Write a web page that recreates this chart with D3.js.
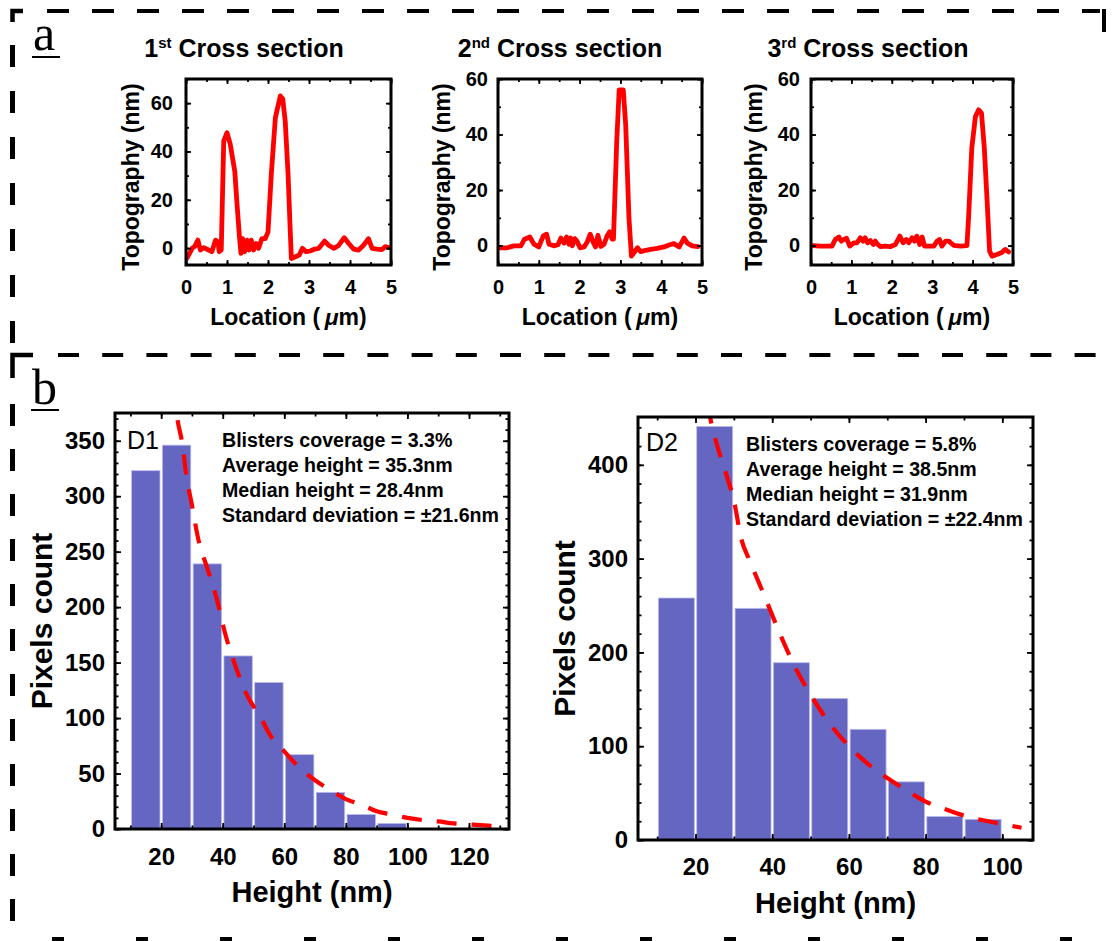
<!DOCTYPE html>
<html>
<head>
<meta charset="utf-8">
<script src="https://cdn.jsdelivr.net/npm/d3@7"></script>
<style>
  body { margin: 0; background: #fff; }
  svg { display: block; }
</style>
</head>
<body>
<svg id="fig" width="1112" height="941"></svg>
<script>
// ---------- data ----------
// Topography profiles along three cross sections: [location (µm), height (nm)]
const section1 = [[0.02,-4.3],[0.15,-0.1],[0.21,0.6],[0.29,3.3],[0.35,-0.8],[0.43,0.2],[0.55,-0.8],[0.63,-1.5],[0.72,3.3],[0.78,2.6],[0.81,-1.5],[0.86,-0.8],[0.92,44.3],[1.0,47.8],[1.08,42.9],[1.19,31.8],[1.24,19.3],[1.30,5.4],[1.34,-2.2],[1.38,3.9],[1.43,-1.5],[1.49,3.3],[1.54,-0.8],[1.59,3.3],[1.65,-0.8],[1.71,1.9],[1.77,-0.1],[1.85,3.9],[1.93,3.9],[2.0,6.6],[2.08,30.4],[2.18,54],[2.30,63],[2.36,61.7],[2.42,52.6],[2.49,30.4],[2.54,8.2],[2.57,-4.3],[2.67,-3.6],[2.76,-2.9],[2.84,-0.1],[2.93,-1.5],[3.03,-1.2],[3.14,-0.4],[3.24,-0.1],[3.38,2.9],[3.48,1.2],[3.60,-0.1],[3.72,1.0],[3.86,4.3],[3.97,1.9],[4.09,-0.4],[4.21,-0.8],[4.33,1.2],[4.45,3.9],[4.54,-0.1],[4.66,-0.4],[4.78,-0.6],[4.86,0.6],[4.94,0.2]];
const section2 = [[0.05,-0.8],[0.23,-0.8],[0.39,-0.1],[0.56,-0.1],[0.65,2.3],[0.78,3.1],[0.88,0.5],[1.0,-0.5],[1.11,3.5],[1.19,4.1],[1.25,0.5],[1.37,-0.1],[1.47,0.3],[1.54,2.7],[1.62,0.9],[1.68,3.1],[1.74,0.5],[1.78,2.7],[1.82,-0.1],[1.88,2.5],[1.94,1.5],[2.01,-0.8],[2.11,-0.5],[2.19,1.4],[2.26,4.1],[2.34,1.0],[2.39,-0.5],[2.45,3.7],[2.52,-0.3],[2.60,0.5],[2.68,3.7],[2.74,5.0],[2.80,2.3],[2.83,2.3],[2.91,37.5],[2.97,56.1],[3.07,56.1],[3.13,43.5],[3.21,10],[3.27,-3.8],[3.33,-2.6],[3.42,-0.8],[3.50,-2.2],[3.62,-1.7],[3.74,-1.4],[3.90,-1.0],[4.07,-0.5],[4.19,0.2],[4.31,0.7],[4.44,-0.5],[4.56,2.7],[4.64,0.9],[4.76,-0.1],[4.90,-0.4]];
const section3 = [[0.05,0.0],[0.23,-0.2],[0.40,-0.2],[0.52,-0.2],[0.60,2.2],[0.69,3.1],[0.75,1.6],[0.81,2.2],[0.88,2.6],[0.96,-0.2],[1.06,1.0],[1.14,1.0],[1.22,2.8],[1.29,1.6],[1.34,2.8],[1.40,1.0],[1.47,1.8],[1.54,0.4],[1.59,1.6],[1.65,0.4],[1.72,-0.4],[1.84,-0.2],[1.96,-0.4],[2.09,0.4],[2.20,3.4],[2.28,1.0],[2.36,2.2],[2.42,1.0],[2.50,2.8],[2.56,1.6],[2.62,3.4],[2.69,0.4],[2.75,3.1],[2.81,-0.2],[2.94,-0.2],[3.04,-0.2],[3.12,1.6],[3.18,2.2],[3.24,-0.2],[3.33,1.6],[3.41,1.6],[3.53,0.1],[3.70,-0.2],[3.86,0.0],[3.90,10],[3.98,35.1],[4.07,46.5],[4.15,48.9],[4.22,47.7],[4.29,35.1],[4.36,15.9],[4.42,-2.0],[4.48,-3.8],[4.60,-3.2],[4.71,-2.6],[4.81,-1.4],[4.89,-2.3]];

const sectionOrdinals = [["1", "st"], ["2", "nd"], ["3", "rd"]];
const sectionYDomains = [[-7, 70], [-7, 60], [-7, 60]];
const topographyTicks = [0, 20, 40, 60];
const locationTicks = [0, 1, 2, 3, 4, 5];

// Height histograms (10 nm bins) and their fitted decay curves
const binStarts = [10, 20, 30, 40, 50, 60, 70, 80, 90];
const binWidth = 10;
const countsD1 = [323, 346, 239, 156, 132, 67, 33, 13, 5];
const countsD2 = [258, 441, 247, 189, 151, 118, 62, 25, 22];
const fitD1 = [[24,400],[25.2,371],[27,345],[28,322],[30,292],[32,262],[35,235],[38,208],[41,174],[44,148],[48,120],[52,102],[56,82],[60,70],[65,55],[70,44],[75,35],[80,27],[85,22],[90,16],[95,13],[100,10],[105,8],[110,6.8],[115,5],[120,4.2],[125,3.3],[130,2]];
const fitD2 = [[23,465],[25,430],[28,390],[30,362],[32,320],[34,299],[38,260],[42,220],[46,184],[50,155],[55,124],[60,100],[65,81],[70,66],[75,53],[80,41],[85,33],[90,26],[95,21],[100,17],[105,13]];
const heightTicksD1 = [20, 40, 60, 80, 100, 120];
const heightTicksD2 = [20, 40, 60, 80, 100];
const countTicksD1 = [0, 50, 100, 150, 200, 250, 300, 350];
const countTicksD2 = [0, 100, 200, 300, 400];
const statsD1 = ["Blisters coverage = 3.3%", "Average height = 35.3nm", "Median height = 28.4nm", "Standard deviation = \u00b121.6nm"];
const statsD2 = ["Blisters coverage = 5.8%", "Average height = 38.5nm", "Median height = 31.9nm", "Standard deviation = \u00b122.4nm"];

// ---------- drawing ----------
const SANS = "'Liberation Sans', Arial, Helvetica, sans-serif";
const SERIF = "'Liberation Serif', 'Times New Roman', serif";
const RED = "#ff0000";
const BAR = "#6466c1";

const svg = d3.select("#fig");
svg.append("rect").attr("width", 1112).attr("height", 941).attr("fill", "#fff");

let clipId = 0;

// Boxed axes with inward ticks on all four sides
function boxAxes(g, x, y, o) {
  const [xl, xr] = x.range();
  const [yb, yt] = y.range();
  const styleTicks = sel => {
    sel.select(".domain").remove();
    sel.selectAll(".tick line").attr("stroke", "#000").attr("stroke-width", 1.8);
    sel.selectAll("text").attr("font-family", SANS).attr("font-weight", "bold")
      .attr("font-size", o.tickFont).attr("fill", "#000");
  };
  const fmt = d3.format("d");
  // minor ticks
  g.append("g").attr("transform", `translate(0,${yb})`)
    .call(d3.axisBottom(x).tickValues(o.xMinor).tickSize(-o.minorLen).tickFormat("")).call(styleTicks);
  g.append("g").attr("transform", `translate(0,${yt})`)
    .call(d3.axisTop(x).tickValues(o.xMinor).tickSize(-o.minorLen).tickFormat("")).call(styleTicks);
  g.append("g").attr("transform", `translate(${xl},0)`)
    .call(d3.axisLeft(y).tickValues(o.yMinor).tickSize(-o.minorLen).tickFormat("")).call(styleTicks);
  g.append("g").attr("transform", `translate(${xr},0)`)
    .call(d3.axisRight(y).tickValues(o.yMinor).tickSize(-o.minorLen).tickFormat("")).call(styleTicks);
  // major ticks with labels on bottom and left
  g.append("g").attr("transform", `translate(0,${yb})`)
    .call(d3.axisBottom(x).tickValues(o.xMajor).tickSize(-o.majorLen).tickPadding(o.xPad).tickFormat(fmt)).call(styleTicks);
  g.append("g").attr("transform", `translate(0,${yt})`)
    .call(d3.axisTop(x).tickValues(o.xMajor).tickSize(-o.majorLen).tickFormat("")).call(styleTicks);
  g.append("g").attr("transform", `translate(${xl},0)`)
    .call(d3.axisLeft(y).tickValues(o.yMajor).tickSize(-o.majorLen).tickPadding(o.yPad).tickFormat(fmt)).call(styleTicks);
  g.append("g").attr("transform", `translate(${xr},0)`)
    .call(d3.axisRight(y).tickValues(o.yMajor).tickSize(-o.majorLen).tickFormat("")).call(styleTicks);
  // frame
  g.append("rect").attr("x", xl).attr("y", yt).attr("width", xr - xl).attr("height", yb - yt)
    .attr("fill", "none").attr("stroke", "#000").attr("stroke-width", 3);
}

function clipRect(x, y) {
  const id = "clip" + (clipId++);
  const [xl, xr] = x.range();
  const [yb, yt] = y.range();
  svg.append("clipPath").attr("id", id).append("rect")
    .attr("x", xl).attr("y", yt).attr("width", xr - xl).attr("height", yb - yt);
  return `url(#${id})`;
}

// ---- panel a: three cross sections ----
const sections = [section1, section2, section3];
const topLayout = [
  { box: [186, 391, 265, 79], yPad: 13, titleX: 244, yLabelX: 139 },
  { box: [498, 702, 265, 79], yPad: 10, titleX: 560, yLabelX: 450 },
  { box: [811, 1013, 265, 79], yPad: 11, titleX: 868, yLabelX: 762 }
];

sections.forEach((data, i) => {
  const L = topLayout[i];
  const x = d3.scaleLinear().domain([0, 5]).range([L.box[0], L.box[1]]);
  const y = d3.scaleLinear().domain(sectionYDomains[i]).range([L.box[2], L.box[3]]);
  const g = svg.append("g");

  const line = d3.line().x(d => x(d[0])).y(d => y(d[1]));
  g.append("path").datum(data).attr("d", line)
    .attr("clip-path", clipRect(x, y))
    .attr("fill", "none").attr("stroke", RED).attr("stroke-width", 4.8)
    .attr("stroke-linejoin", "round").attr("stroke-linecap", "round");

  boxAxes(g, x, y, {
    xMajor: locationTicks, xMinor: d3.range(0, 5.01, 0.5),
    yMajor: topographyTicks, yMinor: d3.range(0, sectionYDomains[i][1] + 0.1, 10),
    majorLen: 5, minorLen: 3, tickFont: 20, xPad: 15, yPad: L.yPad
  });

  // title with superscript ordinal
  const t = g.append("text").attr("x", L.titleX).attr("y", 57).attr("text-anchor", "middle")
    .attr("font-family", SANS).attr("font-weight", "bold").attr("font-size", 25);
  t.append("tspan").text(sectionOrdinals[i][0]);
  t.append("tspan").attr("font-size", 15).attr("dy", -9).text(sectionOrdinals[i][1]);
  t.append("tspan").attr("dy", 9).text(" Cross section");

  // axis titles
  g.append("text").attr("transform", `translate(${L.yLabelX},177) rotate(-90)`)
    .attr("text-anchor", "middle").attr("font-family", SANS).attr("font-weight", "bold")
    .attr("font-size", 23).text("Topography (nm)");
  const xl = g.append("text").attr("x", (L.box[0] + L.box[1]) / 2).attr("y", 325)
    .attr("text-anchor", "middle").attr("font-family", SANS).attr("font-weight", "bold")
    .attr("font-size", 23);
  xl.append("tspan").text("Location (\u2009");
  xl.append("tspan").attr("font-style", "italic").text("\u03bc");
  xl.append("tspan").text("m)");
});

// ---- panel b: height histograms ----
const histLayout = [
  { box: [115, 509, 829, 413], xDomain: [5, 133], yDomain: [0, 375], xPad: 19,
    tag: "D1", tagX: 127, tagY: 449, statX: 222, statY: 446.5, yLabelX: 52, xLabelY: 902 },
  { box: [638, 1033, 840, 417], xDomain: [5, 108], yDomain: [0, 451], xPad: 18,
    tag: "D2", tagX: 646, tagY: 451, statX: 746, statY: 450.5, yLabelX: 575, xLabelY: 913 }
];
const hists = [
  { counts: countsD1, fit: fitD1, xt: heightTicksD1, yt: countTicksD1, yMinorStep: 10, xMinorMax: 130, stats: statsD1 },
  { counts: countsD2, fit: fitD2, xt: heightTicksD2, yt: countTicksD2, yMinorStep: 20, xMinorMax: 100, stats: statsD2 }
];

hists.forEach((h, i) => {
  const L = histLayout[i];
  const x = d3.scaleLinear().domain(L.xDomain).range([L.box[0], L.box[1]]);
  const y = d3.scaleLinear().domain(L.yDomain).range([L.box[2], L.box[3]]);
  const g = svg.append("g");

  g.selectAll("rect.bar").data(binStarts.map((b, k) => ({ b, v: h.counts[k] })))
    .join("rect").attr("class", "bar")
    .attr("x", d => x(d.b) + 1.2)
    .attr("width", d => x(d.b + binWidth) - x(d.b) - 2.4)
    .attr("y", d => y(d.v))
    .attr("height", d => y(0) - y(d.v))
    .attr("fill", BAR).attr("stroke", "#b9baec").attr("stroke-width", 0.8);

  const fitLine = d3.line().curve(d3.curveMonotoneX).x(d => x(d[0])).y(d => y(d[1]));
  g.append("path").datum(h.fit).attr("d", fitLine)
    .attr("clip-path", clipRect(x, y))
    .attr("fill", "none").attr("stroke", RED).attr("stroke-width", 4.2)
    .attr("stroke-dasharray", "20 15");

  boxAxes(g, x, y, {
    xMajor: h.xt, xMinor: d3.range(10, h.xMinorMax + 0.1, 10),
    yMajor: h.yt, yMinor: d3.range(0, L.yDomain[1], h.yMinorStep),
    majorLen: 6, minorLen: 3.5, tickFont: 24, xPad: L.xPad, yPad: 10
  });

  g.append("text").attr("x", L.tagX).attr("y", L.tagY)
    .attr("font-family", SANS).attr("font-size", 25).text(L.tag);

  g.selectAll("text.stat").data(h.stats).join("text").attr("class", "stat")
    .attr("x", L.statX).attr("y", (d, k) => L.statY + k * 25)
    .attr("font-family", SANS).attr("font-weight", "bold").attr("font-size", 19.6)
    .text(d => d);

  g.append("text").attr("transform", `translate(${L.yLabelX},${(L.box[2] + L.box[3]) / 2}) rotate(-90)`)
    .attr("text-anchor", "middle").attr("font-family", SANS).attr("font-weight", "bold")
    .attr("font-size", 30).text("Pixels count");
  g.append("text").attr("x", (L.box[0] + L.box[1]) / 2).attr("y", L.xLabelY)
    .attr("text-anchor", "middle").attr("font-family", SANS).attr("font-weight", "bold")
    .attr("font-size", 29).text("Height (nm)");
});

// ---- panel letters ----
[["a", 33, 50, 57], ["b", 32, 404, 410]].forEach(([s, lx, ly, uy]) => {
  svg.append("text").attr("x", lx).attr("y", ly).attr("font-family", SERIF)
    .attr("font-size", 50).text(s);
  svg.append("line").attr("x1", lx - 1).attr("x2", lx + 27).attr("y1", uy).attr("y2", uy)
    .attr("stroke", "#000").attr("stroke-width", 2);
});

// ---- dashed panel borders ----
const dashG = svg.append("g").attr("stroke", "#000").attr("fill", "none");
dashG.append("path").attr("d", "M12.5,22 V11 H23").attr("stroke-width", 4.5);
dashG.append("line").attr("x1", 47).attr("x2", 1100).attr("y1", 11).attr("y2", 11)
  .attr("stroke-width", 4).attr("stroke-dasharray", "22 23");
dashG.append("line").attr("x1", 1104).attr("x2", 1104).attr("y1", 9).attr("y2", 32)
  .attr("stroke-width", 4);
dashG.append("line").attr("x1", 12.5).attr("x2", 12.5).attr("y1", 45).attr("y2", 345)
  .attr("stroke-width", 5).attr("stroke-dasharray", "22 24");
dashG.append("path").attr("d", "M12.5,378 V355 H33").attr("stroke-width", 4.5);
dashG.append("line").attr("x1", 58).attr("x2", 1100).attr("y1", 355).attr("y2", 355)
  .attr("stroke-width", 4).attr("stroke-dasharray", "21 23.2");
dashG.append("line").attr("x1", 12.5).attr("x2", 12.5).attr("y1", 404).attr("y2", 925)
  .attr("stroke-width", 5).attr("stroke-dasharray", "22 23");
dashG.append("line").attr("x1", 10).attr("x2", 1105).attr("y1", 939.5).attr("y2", 939.5)
  .attr("stroke-width", 5).attr("stroke-dasharray", "0 42 12 30").attr("stroke-dashoffset", 0);
</script>
</body>
</html>
